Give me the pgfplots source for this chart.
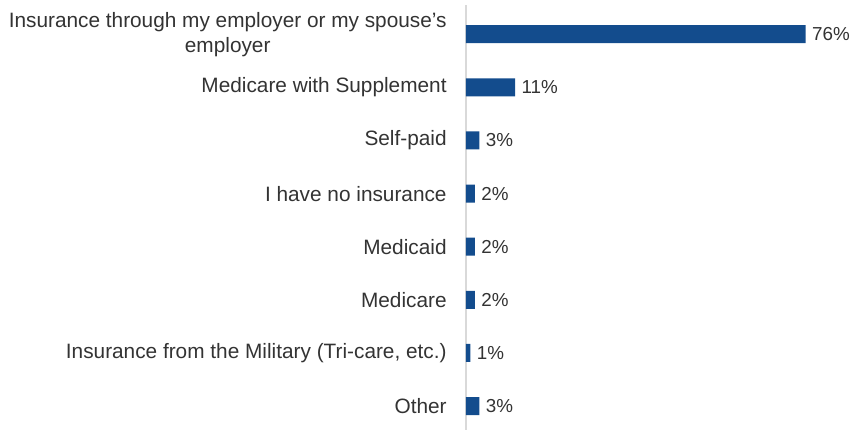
\documentclass[border=0pt]{standalone}
\usepackage{pgfplots}
\pgfplotsset{compat=1.18}
\usepackage{fontspec}
\setmainfont{Liberation Sans}
\definecolor{barblue}{HTML}{134C8D}
\definecolor{txt}{HTML}{333333}
\begin{document}
\fontsize{10.4}{12.5}\selectfont
\begin{tikzpicture}
\useasboundingbox (-233pt,0) rectangle (192pt,215pt);
\begin{axis}[
  at={(0,0)}, anchor=south west,
  scale only axis,
  width=178.8pt, height=212.5pt,
  xbar,
  bar width=9pt,
  xmin=0, xmax=80,
  ymin=-0.55, ymax=7.45,
  y dir=reverse,
  ytick={0,...,7},
  yticklabels={{Insurance through my employer or my spouse's\\employer},
    Medicare with Supplement, Self-paid, I have no insurance,
    Medicaid, Medicare, {Insurance from the Military (Tri-care, etc.)}, Other},
  yticklabel style={align=center, inner sep=0pt, xshift=-9.5pt, text=txt, font=\fontsize{10.4}{12.5}\selectfont},
  major tick length=0pt,
  axis x line=none,
  axis y line*=left,
  y axis line style={draw=black!15, line width=0.8pt},
  clip=false,
  /pgf/number format/assume math mode=true,
  nodes near coords={\pgfmathprintnumber{\pgfplotspointmeta}\%},
  every node near coord/.append style={anchor=west, inner xsep=3pt, xshift=0pt, text=txt, font=\fontsize{9.4}{11}\selectfont},
]
\addplot[fill=barblue, draw=none] coordinates {
  (76,0) (11,1) (3,2) (2,3) (2,4) (2,5) (1,6) (3,7)};
\end{axis}
\end{tikzpicture}
\end{document}
